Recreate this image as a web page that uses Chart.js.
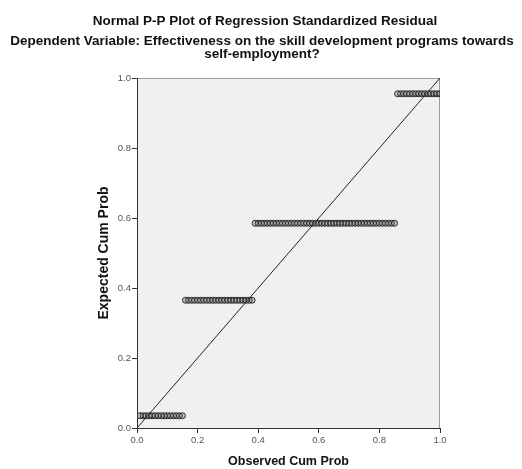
<!DOCTYPE html>
<html>
<head>
<meta charset="utf-8">
<script src="https://cdn.jsdelivr.net/npm/chart.js@4.4.1/dist/chart.umd.min.js"></script>
<style>
  html, body { margin: 0; padding: 0; background: #fff; }
  #wrap { width: 522px; height: 469px; }
</style>
</head>
<body>
<div id="wrap"><canvas id="chart" width="522" height="469"></canvas></div>
<script>
// observed cum prob for each block of tied residuals
const observedBlock1 = [0.01, 0.02, 0.03, 0.04, 0.05, 0.06, 0.07, 0.08, 0.09, 0.10, 0.11, 0.12, 0.13, 0.14, 0.15];
const observedBlock2 = [0.16, 0.17, 0.18, 0.19, 0.20, 0.21, 0.22, 0.23, 0.24, 0.25, 0.26, 0.27, 0.28, 0.29, 0.30,
    0.31, 0.32, 0.33, 0.34, 0.35, 0.36, 0.37, 0.38];
const observedBlock3 = [0.39, 0.40, 0.41, 0.42, 0.43, 0.44, 0.45, 0.46, 0.47, 0.48, 0.49, 0.50, 0.51, 0.52, 0.53,
    0.54, 0.55, 0.56, 0.57, 0.58, 0.59, 0.60, 0.61, 0.62, 0.63, 0.64, 0.65, 0.66, 0.67, 0.68, 0.69, 0.70,
    0.71, 0.72, 0.73, 0.74, 0.75, 0.76, 0.77, 0.78, 0.79, 0.80, 0.81, 0.82, 0.83, 0.84, 0.85];
const observedBlock4 = [0.86, 0.87, 0.88, 0.89, 0.90, 0.91, 0.92, 0.93, 0.94, 0.95, 0.96, 0.97, 0.98, 0.99, 1.00];
// expected cum prob of each block
const expectedLevels = [0.035, 0.365, 0.585, 0.955];
const referenceLine = [0, 1];
const tickValues = [0, 0.2, 0.4, 0.6, 0.8, 1.0];

const titleLines = ['Normal P-P Plot of Regression Standardized Residual',
    'Dependent Variable: Effectiveness on the skill development programs towards',
    'self-employment?'];

const blocks = [observedBlock1, observedBlock2, observedBlock3, observedBlock4];
const points = [];
blocks.forEach((block, i) => {
    block.forEach(x => points.push({ x: x, y: expectedLevels[i] }));
});

const plotBackground = {
    id: 'plotBackground',
    beforeDraw(chart) {
        const { ctx, chartArea } = chart;
        ctx.save();
        ctx.fillStyle = '#f0f0f0';
        ctx.fillRect(chartArea.left, chartArea.top, chartArea.right - chartArea.left, chartArea.bottom - chartArea.top);
        ctx.strokeStyle = '#9a9a9a';
        ctx.lineWidth = 1;
        ctx.beginPath();
        ctx.moveTo(chartArea.left, chartArea.top + 0.5);
        ctx.lineTo(chartArea.right - 0.5, chartArea.top + 0.5);
        ctx.lineTo(chartArea.right - 0.5, chartArea.bottom);
        ctx.stroke();
        ctx.restore();
    }
};

const titleText = {
    id: 'titleText',
    afterDraw(chart) {
        const ctx = chart.ctx;
        ctx.save();
        ctx.fillStyle = '#111';
        ctx.textAlign = 'center';
        ctx.textBaseline = 'middle';
        ctx.font = 'bold 13.5px "Liberation Sans", Arial, sans-serif';
        ctx.fillText(titleLines[0], 265, 21);
        ctx.fillText(titleLines[1], 262, 41);
        ctx.fillText(titleLines[2], 262, 54);
        ctx.restore();
    }
};

const ctx = document.getElementById('chart');
new Chart(ctx, {
    type: 'scatter',
    data: {
        datasets: [{
            data: points,
            pointRadius: 3,
            pointBorderWidth: 1,
            pointBorderColor: '#2a2a2a',
            pointBackgroundColor: 'rgba(100,100,100,0.3)',
            showLine: false
        }, {
            type: 'line',
            data: referenceLine.map(v => ({ x: v, y: v })),
            borderColor: '#222',
            borderWidth: 1,
            pointRadius: 0,
            fill: false
        }]
    },
    options: {
        responsive: false,
        animation: false,
        layout: { padding: { left: 0, right: 82, top: 78, bottom: 0 } },
        plugins: {
            legend: { display: false },
            tooltip: { enabled: false }
        },
        scales: {
            x: {
                type: 'linear',
                min: 0,
                max: 1,
                afterFit: (scale) => { scale.height = 41; },
                afterBuildTicks: (scale) => { scale.ticks = tickValues.map(v => ({ value: v })); },
                grid: { display: true, drawOnChartArea: false, drawTicks: true, tickLength: 5, color: '#333' },
                border: { display: true, color: '#333', width: 1 },
                ticks: {
                    padding: 2,
                    color: '#555',
                    font: { family: '"Liberation Sans", Arial, sans-serif', size: 9.5 },
                    callback: (v) => Number(v).toFixed(1)
                },
                title: {
                    display: true,
                    text: 'Observed Cum Prob',
                    color: '#111',
                    font: { family: '"Liberation Sans", Arial, sans-serif', size: 12.5, weight: 'bold' },
                    padding: { top: 0, bottom: 0 }
                }
            },
            y: {
                type: 'linear',
                min: 0,
                max: 1,
                afterFit: (scale) => { scale.width = 137; },
                afterBuildTicks: (scale) => { scale.ticks = tickValues.map(v => ({ value: v })); },
                grid: { display: true, drawOnChartArea: false, drawTicks: true, tickLength: 5, color: '#333' },
                border: { display: true, color: '#333', width: 1 },
                ticks: {
                    padding: 1,
                    color: '#555',
                    font: { family: '"Liberation Sans", Arial, sans-serif', size: 9.5 },
                    callback: (v) => Number(v).toFixed(1)
                },
                title: {
                    display: true,
                    text: 'Expected Cum Prob',
                    color: '#111',
                    font: { family: '"Liberation Sans", Arial, sans-serif', size: 14, weight: 'bold' },
                    padding: { top: 96, bottom: 0 }
                }
            }
        }
    },
    plugins: [plotBackground, titleText]
});
</script>
</body>
</html>
